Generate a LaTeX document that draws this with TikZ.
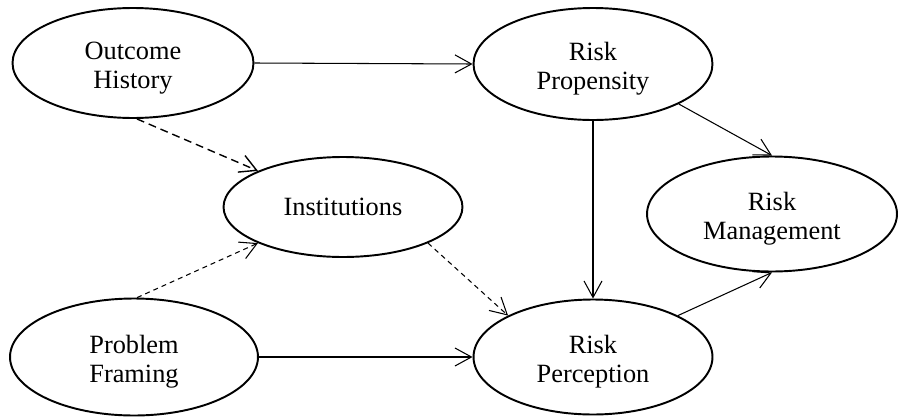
\documentclass[tikz,border=0pt]{standalone}
\usepackage{fontspec}
\setmainfont{Liberation Serif}
\usepackage{tikz}
\usetikzlibrary{shapes,arrows.meta}
\tikzset{var/.style={ellipse,draw,line width=1.1pt,inner sep=0pt,align=center,font=\fontsize{15}{16.5}\selectfont}}
\tikzset{link/.style={line width=0.6pt}}
\newcommand{\twolines}[2]{\rule{0pt}{15.5pt}#1\\#2}

\begin{document}
\begin{tikzpicture}[x=0.02cm,y=-0.02cm,>={Straight Barb[length=0.33cm,width=0.36cm]}]
        \useasboundingbox (0,0) rectangle (899,416);
		\node[var,minimum width=4.82cm,minimum height=2.2cm] (oh) at (133,63) {\twolines{Outcome}{History}};
        \node[var,minimum width=4.78cm,minimum height=2.24cm] (rp) at (593,64) {\twolines{Risk}{Propensity}};
        \node[var,minimum width=4.78cm,minimum height=2.0cm] (inst) at (343,207) {Institutions};
        \node[var,minimum width=5.0cm,minimum height=2.3cm] (rm) at (772,214) {\twolines{Risk}{Management}};
        \node[var,minimum width=4.96cm,minimum height=2.34cm] (pf) at (134,357) {\twolines{Problem}{Framing}};
        \node[var,minimum width=4.78cm,minimum height=2.3cm] (rpc) at (593,357) {\twolines{Risk}{Perception}};

        \draw [link,->] (oh.east) -- (rp.west);
		\draw [link,->] (pf.east) -- (rpc.west);
		\draw [link,->] (rp.south) -- (rpc.north);
		\draw [link,->] (rp.-25) -- (rm.north);
		\draw [link,->] (rpc.26) -- (rm.south);
		\draw [line width=0.8pt,dash pattern=on 4.5pt off 2.8pt,->] (oh.-86) -- (inst.157);
		\draw [link,dash pattern=on 2.8pt off 2.3pt,->] (pf.87) -- (inst.203);
		\draw [link,dash pattern=on 2.8pt off 2.3pt,->] (inst.-23) -- (rpc.154);
    \end{tikzpicture}
\end{document}
